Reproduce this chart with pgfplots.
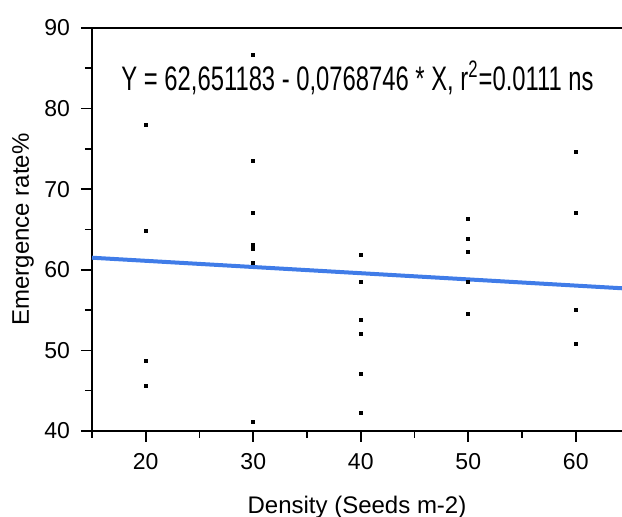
\documentclass[border=0pt]{standalone}
\usepackage{pgfplots}
\pgfplotsset{compat=1.18}
\usepackage{fontspec}
\setmainfont{Liberation Sans}
\newfontfamily\condfont[FakeStretch=0.70]{Liberation Sans}
\definecolor{fitblue}{RGB}{64,124,232}
\begin{document}
\begin{tikzpicture}
\useasboundingbox (0,0) rectangle (311pt,258.5pt);
\begin{axis}[
  at={(46pt,43pt)}, anchor=south west,
  scale only axis, width=265pt, height=201.5pt,
  xmin=15, xmax=64.3, ymin=40, ymax=90,
  axis x line=box, axis y line=left,
  axis line style={-, line width=0.9pt},
  xtick={20,30,40,50,60}, ytick={40,50,...,90},
  minor xtick={15,25,35,45,55}, minor ytick={45,55,...,85},
  xtick pos=bottom, ytick pos=left,
  tick align=outside,
  major tick length=5.5pt, minor tick length=3.5pt,
  every tick/.style={black, line width=0.8pt},
  /pgf/number format/assume math mode=true,
  ticklabel style={font=\fontsize{11.5}{13}\selectfont},
  yticklabel style={xshift=-2pt},
  xticklabel style={yshift=-2pt},
  xlabel={Density (Seeds m-2)},
  ylabel={Emergence rate\%},
  label style={font=\fontsize{12}{14}\selectfont},
  xlabel style={at={(axis description cs:0.5,0)}, anchor=base, yshift=-41.5pt},
  ylabel style={at={(axis description cs:-0.13,0.5)}, anchor=center},
  clip=false,
]
\addplot[only marks, mark=square*, mark size=0.75pt, black] coordinates {
 (20,78.0) (20,64.8) (20,48.7) (20,45.6)
 (30,86.6) (30,73.5) (30,67.0) (30,63.1) (30,62.6) (30,60.8) (30,41.1)
 (40,61.8) (40,58.5) (40,53.8) (40,52.0) (40,47.1) (40,42.3)
 (50,66.3) (50,63.8) (50,62.25) (50,58.5) (50,54.5)
 (60,74.6) (60,67.0) (60,55.0) (60,50.8)
};
\addplot[fitblue, line width=2pt] coordinates {(15,61.498) (64.3,57.708)};
\node[anchor=base, inner sep=0pt, font=\condfont\fontsize{17}{19}\selectfont] at (axis cs:39.7,82.3)
  {Y = 62,651183 - 0,0768746 * X, r\textsuperscript{2}=0.0111 ns};
\end{axis}
\end{tikzpicture}
\end{document}
